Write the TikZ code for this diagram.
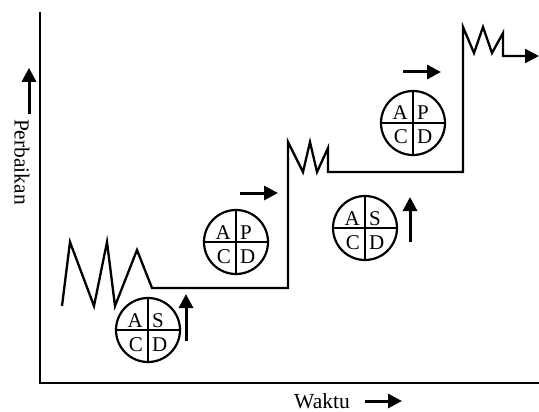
\documentclass[tikz,border=0pt]{standalone}
\usepackage{fontspec}
\setmainfont{Liberation Serif}
\usetikzlibrary{arrows.meta, positioning}

\begin{document}
\begin{tikzpicture}[x=1pt, y=-1pt,
  axis/.style={line width=2.6pt},
  stair/.style={line width=2.3pt, line join=miter},
  arr/.style={-{Triangle[length=14pt, width=14pt]}, line width=3pt},
  pdca/.style={draw, circle, line width=2.2pt, minimum size=64pt,
    inner sep=0pt},
  cross/.style={line width=2.2pt},
  lbl/.style={font=\fontsize{21}{24}\selectfont, inner sep=0pt},
  axlbl/.style={font=\fontsize{21.5}{25}\selectfont, inner sep=0pt}
]
  \useasboundingbox (0,0) rectangle (539,412);

  % Axes
  \coordinate (top) at (40,12);
  \coordinate (o) at (40,383);
  \coordinate (right) at (539,383);
  \draw[axis] (top) -- (o) -- (right);

  % Axis labels
  \node[axlbl, rotate=-90] (ylab) at (22,162) {Perbaikan};
  \draw[arr] ([shift={(7,-5)}]ylab.west) -- ++(0,-46);

  \node[axlbl, anchor=base] (xlab) at (322,408) {Waktu};
  \draw[arr] ([shift={(43,-7)}]xlab.base) -- ++(37,0);

  % Improvement staircase
  \coordinate (end) at (539,56);
  \draw[stair, -{Triangle[length=14pt, width=14pt]}]
    (62,306) -- (70,242) -- (94,306) -- (107,242) -- (115,306)
    -- (137,250) -- (152,288) -- (288,288)
    -- (288,142) -- (303,172) -- (310,142) -- (317,172) -- (328,148)
    -- (328,172) -- (463,172)
    -- (463,27) -- (474,53) -- (483,27) -- (492,53) -- (503,33)
    -- (503,56) -- (end);

  % PDCA circles
  \foreach \n/\p/\r in {c1/{148,330}/S, c2/{236,242}/P,
                        c3/{365,228}/S, c4/{413,123}/P} {
    \node[pdca] (\n) at (\p) {};
    \draw[cross] (\n.north) -- (\n.south);
    \draw[cross] (\n.west) -- (\n.east);
    \node[lbl, anchor=base east] (\n-a) at ([shift={(-5,-3)}]\n.center) {A};
    \node[lbl, anchor=base west] (\n-r) at ([shift={(4,-3)}]\n.center) {\r};
    \node[lbl, anchor=base east] (\n-c) at ([shift={(-5,21)}]\n.center) {C};
    \node[lbl, anchor=base west] (\n-d) at ([shift={(4,21)}]\n.center) {D};
  }

  % Step arrows
  \draw[arr] ([shift={(38,11)}]c1.center) -- ++(0,-47);
  \draw[arr] ([shift={(4,-49)}]c2.center) -- ++(38,0);
  \draw[arr] ([shift={(45,14)}]c3.center) -- ++(0,-45);
  \draw[arr] ([shift={(-10,-51)}]c4.center) -- ++(38,0);
\end{tikzpicture}
\end{document}
